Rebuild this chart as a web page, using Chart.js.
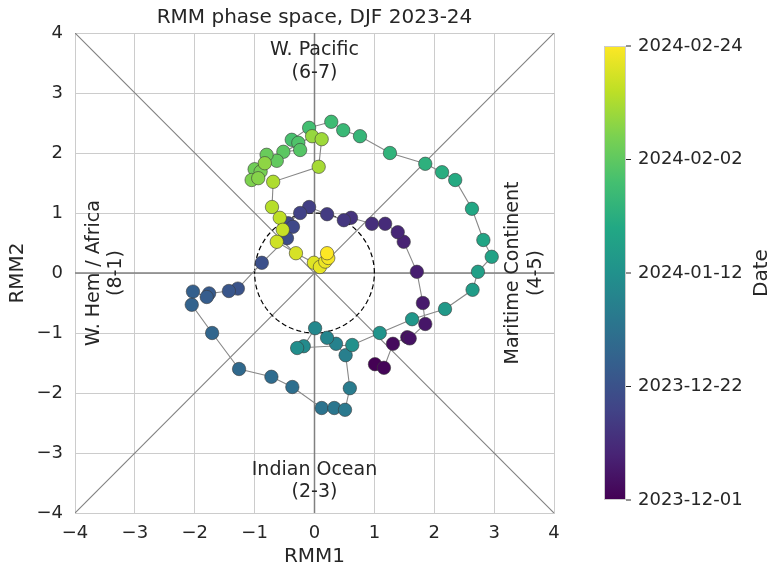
<!DOCTYPE html>
<html>
<head>
<meta charset="utf-8">
<title>RMM phase space</title>
<script src="https://cdn.jsdelivr.net/npm/chart.js@4.4.1/dist/chart.umd.min.js"></script>
<style>
  html, body { margin: 0; padding: 0; background: #fff; }
  #wrap { width: 780px; height: 578px; }
</style>
</head>
<body>
<div id="wrap"><canvas id="rmm" width="780" height="578"></canvas></div>
<script>
// daily RMM index, DJF 2023-24
const rmm1 = [
  1.01, 1.16, 1.31, 1.55, 1.59, 1.85, 1.81, 1.71, 1.49, 1.39,
  1.18, 0.96, 0.61, 0.49, 0.21, -0.09, -0.24, -0.44, -0.36, -0.46,
  -0.88, -1.28, -1.43, -1.76, -1.80, -2.03, -2.05, -1.71, -1.26, -0.72,
  -0.37, 0.12, 0.33, 0.51, 0.59, 0.52, 0.36, 0.21, 0.01, -0.18,
  -0.29, 0.63, 1.09, 1.63, 2.18, 2.64, 2.73, 2.96, 2.82, 2.63,
  2.35, 2.13, 1.85, 1.26, 0.76, 0.48, 0.28, -0.09, -0.38, -0.27,
  -0.24, -0.52, -0.63, -0.80, -1.00, -0.90, -1.05, -0.94, -0.83, -0.04,
  0.12, 0.07, -0.69, -0.71, -0.58, -0.53, -0.63, -0.31, -0.01, 0.09,
  0.18, 0.23, 0.21
];
const rmm2 = [
  -1.52, -1.58, -1.18, -1.07, -1.09, -0.85, -0.50, 0.02, 0.52, 0.68,
  0.82, 0.82, 0.92, 0.88, 0.98, 1.10, 1.00, 0.83, 0.77, 0.58,
  0.17, -0.26, -0.30, -0.34, -0.40, -0.31, -0.53, -1.00, -1.60, -1.73,
  -1.90, -2.25, -2.25, -2.28, -1.92, -1.37, -1.18, -1.08, -0.92, -1.22,
  -1.25, -1.20, -1.00, -0.77, -0.60, -0.28, 0.02, 0.27, 0.55, 1.07,
  1.55, 1.68, 1.82, 2.00, 2.28, 2.38, 2.52, 2.42, 2.22, 2.17,
  2.05, 2.02, 1.87, 1.97, 1.73, 1.69, 1.55, 1.58, 1.83, 2.28,
  2.23, 1.77, 1.52, 1.10, 0.92, 0.72, 0.52, 0.33, 0.17, 0.10,
  0.19, 0.25, 0.33
];
const cbTickLabels = ['2023-12-01', '2023-12-22', '2024-01-12', '2024-02-02', '2024-02-24'];
const phaseLabels = [
  { lines: ['W. Pacific', '(6-7)'], x: 0, y: 3.52, rot: 0 },
  { lines: ['Indian Ocean', '(2-3)'], x: 0, y: -3.47, rot: 0 },
  { lines: ['W. Hem / Africa', '(8-1)'], x: -3.5, y: 0, rot: -Math.PI / 2 },
  { lines: ['Maritime Continent', '(4-5)'], x: 3.51, y: 0, rot: -Math.PI / 2 }
];
// phase boundaries: diagonals and axes
const guideLines = [[-4, -4, 4, 4], [-4, 4, 4, -4], [-4, 0, 4, 0], [0, -4, 0, 4]];
const titleText = 'RMM phase space, DJF 2023-24';

const TXT = '#262626';
const FONT = 'DejaVu Sans';

const viridisStops = ['#440154', '#482475', '#414487', '#355f8d', '#2a788e',
  '#21918c', '#22a884', '#44bf70', '#7ad151', '#bddf26', '#fde725'];

function hexRgb(h) {
  return [parseInt(h.slice(1, 3), 16), parseInt(h.slice(3, 5), 16), parseInt(h.slice(5, 7), 16)];
}
function viridis(t) {
  t = Math.min(1, Math.max(0, t));
  const p = t * (viridisStops.length - 1);
  const i = Math.min(Math.floor(p), viridisStops.length - 2);
  const f = p - i;
  const a = hexRgb(viridisStops[i]), b = hexRgb(viridisStops[i + 1]);
  const c = a.map((v, k) => Math.round(v + (b[k] - v) * f));
  return `rgb(${c[0]},${c[1]},${c[2]})`;
}

const points = rmm1.map((x, i) => ({ x: x, y: rmm2[i] }));
const pointColors = rmm1.map((_, i) => viridis(i / (rmm1.length - 1)));

const circle = [];
for (let a = 0; a <= 360; a += 3) {
  circle.push({ x: Math.cos(a * Math.PI / 180), y: Math.sin(a * Math.PI / 180) });
}

const guideSets = guideLines.map((g, i) => ({
  data: [{ x: g[0], y: g[1] }, { x: g[2], y: g[3] }],
  showLine: true,
  borderColor: '#808080',
  borderWidth: i < 2 ? 1.1 : 1.5,
  pointRadius: 0,
  order: 3
}));

const minus = v => (v < 0 ? '\u2212' + Math.abs(v) : String(v));

// title centred over the plot area, not the whole canvas
const titlePlugin = {
  id: 'axTitle',
  afterDraw(chart) {
    const { ctx, chartArea } = chart;
    ctx.save();
    ctx.fillStyle = TXT;
    ctx.font = `20px "${FONT}"`;
    ctx.textAlign = 'center';
    ctx.textBaseline = 'middle';
    ctx.fillText(titleText, (chartArea.left + chartArea.right) / 2, 18);
    ctx.restore();
  }
};

const phasePlugin = {
  id: 'phaseLabels',
  afterDatasetsDraw(chart) {
    const { ctx, scales } = chart;
    ctx.save();
    ctx.fillStyle = TXT;
    ctx.font = `19px "${FONT}"`;
    ctx.textAlign = 'center';
    ctx.textBaseline = 'middle';
    phaseLabels.forEach(p => {
      const px = scales.x.getPixelForValue(p.x);
      const py = scales.y.getPixelForValue(p.y);
      ctx.save();
      ctx.translate(px, py);
      ctx.rotate(p.rot);
      const lh = 22.5;
      p.lines.forEach((s, k) => {
        ctx.fillText(s, 0, (k - (p.lines.length - 1) / 2) * lh);
      });
      ctx.restore();
    });
    ctx.restore();
  }
};

const colorbarPlugin = {
  id: 'colorbar',
  afterDraw(chart) {
    const ctx = chart.ctx;
    const x0 = 604, w = 22, top = 46, bot = 500;
    ctx.save();
    const grad = ctx.createLinearGradient(0, bot, 0, top);
    viridisStops.forEach((c, i) => grad.addColorStop(i / (viridisStops.length - 1), c));
    ctx.fillStyle = grad;
    ctx.fillRect(x0, top, w, bot - top);
    ctx.strokeStyle = '#cccccc';
    ctx.lineWidth = 1;
    ctx.strokeRect(x0 + 0.5, top + 0.5, w - 1, bot - top - 1);
    ctx.fillStyle = TXT;
    ctx.strokeStyle = TXT;
    ctx.font = `18px "${FONT}"`;
    ctx.textAlign = 'left';
    ctx.textBaseline = 'middle';
    cbTickLabels.forEach((lab, i) => {
      const y = bot - i * (bot - top) / (cbTickLabels.length - 1);
      ctx.beginPath();
      ctx.moveTo(x0 + w, y);
      ctx.lineTo(x0 + w + 5, y);
      ctx.stroke();
      ctx.fillText(lab, x0 + w + 12, y);
    });
    ctx.translate(762, (top + bot) / 2);
    ctx.rotate(-Math.PI / 2);
    ctx.textAlign = 'center';
    ctx.font = `20px "${FONT}"`;
    ctx.fillText('Date', 0, 0);
    ctx.restore();
  }
};

new Chart(document.getElementById('rmm'), {
  type: 'scatter',
  data: {
    datasets: [
      {
        data: points,
        showLine: true,
        borderColor: '#888888',
        borderWidth: 1.1,
        pointRadius: 6.7,
        pointBackgroundColor: pointColors,
        pointBorderColor: '#3a3a3a',
        pointBorderWidth: 0.6,
        order: 1
      },
      {
        data: circle,
        showLine: true,
        borderColor: '#000000',
        borderWidth: 1.2,
        borderDash: [5, 3],
        pointRadius: 0,
        order: 2
      },
      ...guideSets
    ]
  },
  options: {
    responsive: false,
    animation: false,
    layout: { padding: { top: 33, right: 226, bottom: 0, left: 0 } },
    plugins: {
      legend: { display: false },
      tooltip: { enabled: false },
      title: { display: false }
    },
    scales: {
      x: {
        type: 'linear',
        min: -4, max: 4,
        afterFit(s) { s.height = 65; },
        ticks: { stepSize: 1, autoSkip: false, padding: 10, color: TXT,
          font: { family: FONT, size: 18 }, callback: minus },
        grid: { color: '#cccccc', lineWidth: 1, drawTicks: false },
        border: { color: '#cccccc' },
        title: { display: true, text: 'RMM1', color: TXT,
          font: { family: FONT, size: 20 }, padding: { top: 4, bottom: 9 } }
      },
      y: {
        type: 'linear',
        min: -4, max: 4,
        afterFit(s) { s.width = 75; },
        ticks: { stepSize: 1, autoSkip: false, padding: 12, color: TXT,
          font: { family: FONT, size: 18 }, callback: minus },
        grid: { color: '#cccccc', lineWidth: 1, drawTicks: false },
        border: { color: '#cccccc' },
        title: { display: true, text: 'RMM2', color: TXT,
          font: { family: FONT, size: 20 }, padding: { top: 6, bottom: 4 } }
      }
    }
  },
  plugins: [titlePlugin, phasePlugin, colorbarPlugin]
});
</script>
</body>
</html>
